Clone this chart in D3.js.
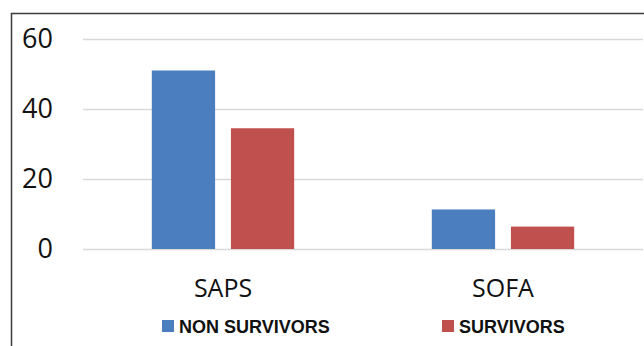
<!DOCTYPE html>
<html>
<head>
<meta charset="utf-8">
<script src="https://cdn.jsdelivr.net/npm/d3@7"></script>
<style>
  html, body { margin: 0; padding: 0; background: #fff; }
  svg { display: block; }
</style>
</head>
<body>
<svg id="chart" width="644" height="346"></svg>
<script>
// Scores by outcome group
const categories = ["SAPS", "SOFA"];
const seriesNames = ["NON SURVIVORS", "SURVIVORS"];
const nonSurvivors = [51, 11.3];
const survivors = [34.5, 6.4];
const yTicks = [0, 20, 40, 60];
const colors = ["#4a7ebf", "#c0504d"];

const svg = d3.select("#chart");
const W = 644, H = 346;
const plot = { left: 83, right: 643, top: 39, bottom: 249 };

// Frame around the chart area
svg.append("path")
  .attr("d", `M11.5,${H} L11.5,13.5 L${W},13.5`)
  .attr("fill", "none")
  .attr("stroke", "#3a3a3a")
  .attr("stroke-width", 1.5);

const x = d3.scaleBand().domain(categories).range([plot.left, plot.right]).paddingInner(0).paddingOuter(0);
const x1 = d3.scaleBand().domain(seriesNames).range([0, x.bandwidth()]).paddingInner(0.2).paddingOuter(0.87);
const y = d3.scaleLinear().domain([0, 60]).range([plot.bottom, plot.top]);

// Gridlines and value labels
const yAxis = d3.axisLeft(y).tickValues(yTicks).tickSize(-(plot.right - plot.left)).tickPadding(30).tickFormat(d3.format("d"));
const gy = svg.append("g").attr("transform", `translate(${plot.left},0)`).call(yAxis);
gy.select(".domain").remove();
gy.selectAll(".tick line").attr("stroke", "#d9d9d9").attr("stroke-width", 1.5);
gy.selectAll(".tick text")
  .attr("fill", "#111")
  .style("font-family", "'Open Sans', sans-serif")
  .style("font-size", "27px");

// Bars
const rows = categories.map((c, i) => ({ cat: c, vals: [nonSurvivors[i], survivors[i]] }));
const groups = svg.append("g").selectAll("g").data(rows).join("g")
  .attr("transform", d => `translate(${x(d.cat)},0)`);
groups.selectAll("rect")
  .data(d => d.vals.map((v, j) => ({ name: seriesNames[j], v, j })))
  .join("rect")
  .attr("x", d => x1(d.name))
  .attr("width", x1.bandwidth())
  .attr("y", d => y(d.v))
  .attr("height", d => y(0) - y(d.v))
  .attr("fill", d => colors[d.j]);

// Category labels
const xAxis = d3.axisBottom(x).tickSize(0).tickPadding(30);
const gx = svg.append("g").attr("transform", `translate(0,${plot.bottom})`).call(xAxis);
gx.select(".domain").remove();
gx.selectAll(".tick text")
  .attr("fill", "#111")
  .style("font-family", "'Open Sans', sans-serif")
  .style("font-size", "25px");

// Legend
const legendX = [162, 442];
const legend = svg.append("g").selectAll("g").data(seriesNames).join("g")
  .attr("transform", (d, i) => `translate(${legendX[i]},320)`);
legend.append("rect").attr("width", 12).attr("height", 12).attr("fill", (d, i) => colors[i]);
legend.append("text")
  .attr("x", 17).attr("y", 12.5)
  .attr("fill", "#111")
  .style("font-family", "'Liberation Sans', Arial, sans-serif")
  .style("font-weight", "bold")
  .style("font-size", "18px")
  .text(d => d);
</script>
</body>
</html>
